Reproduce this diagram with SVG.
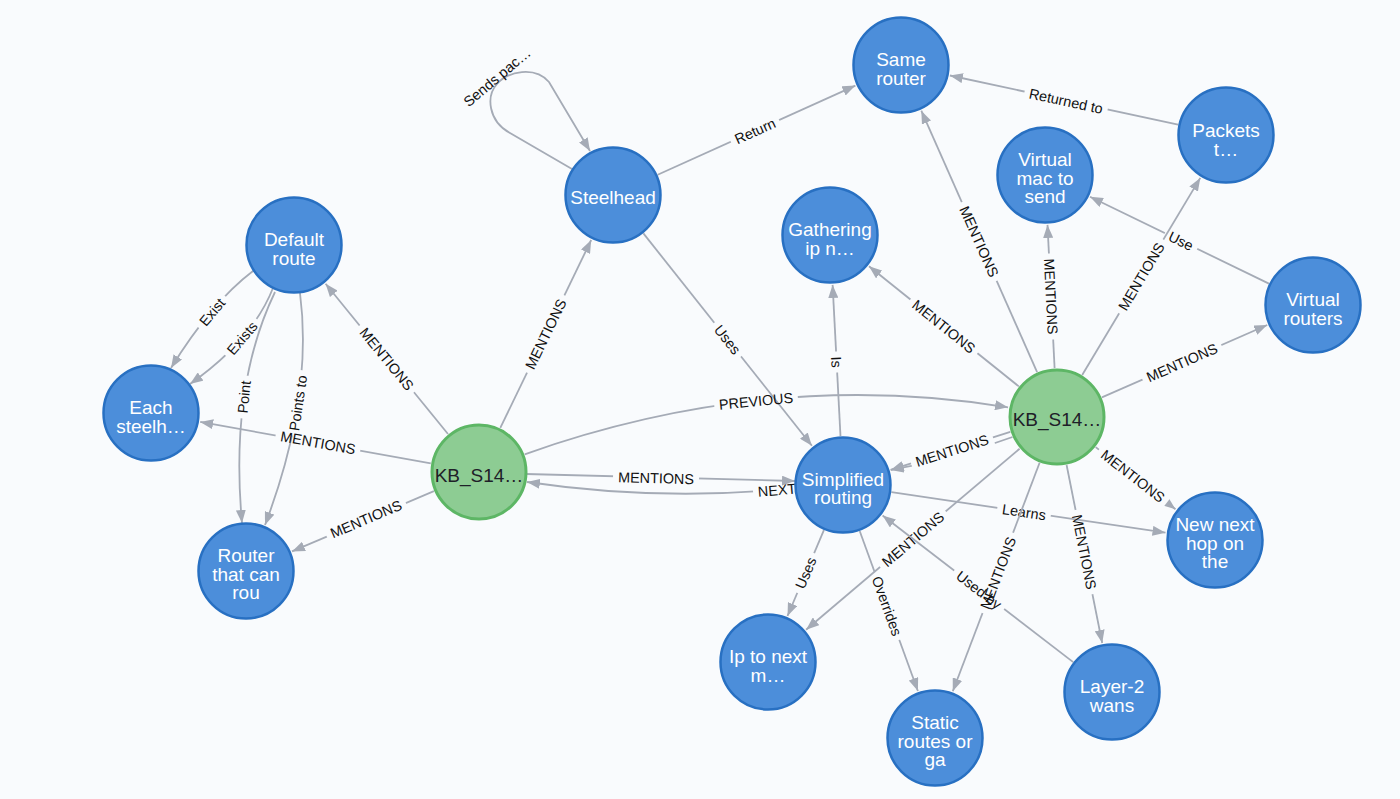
<svg xmlns="http://www.w3.org/2000/svg" width="1400" height="799" viewBox="0 0 1400 799">
<defs>
<marker id="arr" viewBox="0 0 13 10" refX="13" refY="5" markerWidth="13" markerHeight="10" markerUnits="userSpaceOnUse" orient="auto"><path d="M0,0 L13,5 L0,10 z" fill="#A5ABB6"/></marker>
<rect id="full" width="1400" height="799" fill="#fff"/>
<mask id="m1" maskUnits="userSpaceOnUse" x="0" y="0" width="1400" height="799"><use href="#full"/><rect x="-26.5" y="-6" width="53" height="12" transform="translate(755,131) rotate(-24.3)"/></mask>
<mask id="m2" maskUnits="userSpaceOnUse" x="0" y="0" width="1400" height="799"><use href="#full"/><rect x="-21.5" y="-6" width="43" height="12" transform="translate(727.6,339.6) rotate(51.6)"/></mask>
<mask id="m3" maskUnits="userSpaceOnUse" x="0" y="0" width="1400" height="799"><use href="#full"/><rect x="-43" y="-6" width="86" height="12" transform="translate(545.7,334) rotate(-64.2)"/></mask>
<mask id="m4" maskUnits="userSpaceOnUse" x="0" y="0" width="1400" height="799"><use href="#full"/><rect x="-43" y="-6" width="86" height="12" transform="translate(386.8,358.9) rotate(50.8)"/></mask>
<mask id="m5" maskUnits="userSpaceOnUse" x="0" y="0" width="1400" height="799"><use href="#full"/><rect x="-20.5" y="-7" width="41" height="14" transform="translate(212,312) rotate(-49.8)"/></mask>
<mask id="m6" maskUnits="userSpaceOnUse" x="0" y="0" width="1400" height="799"><use href="#full"/><rect x="-24" y="-7" width="48" height="14" transform="translate(242,338) rotate(-49.2)"/></mask>
<mask id="m7" maskUnits="userSpaceOnUse" x="0" y="0" width="1400" height="799"><use href="#full"/><rect x="-21.5" y="-7" width="43" height="14" transform="translate(244,397) rotate(-84)"/></mask>
<mask id="m8" maskUnits="userSpaceOnUse" x="0" y="0" width="1400" height="799"><use href="#full"/><rect x="-33" y="-7" width="66" height="14" transform="translate(298,403) rotate(-81.4)"/></mask>
<mask id="m9" maskUnits="userSpaceOnUse" x="0" y="0" width="1400" height="799"><use href="#full"/><rect x="-43" y="-6" width="86" height="12" transform="translate(318,442.6) rotate(10.2)"/></mask>
<mask id="m10" maskUnits="userSpaceOnUse" x="0" y="0" width="1400" height="799"><use href="#full"/><rect x="-43" y="-6" width="86" height="12" transform="translate(366,519) rotate(-23)"/></mask>
<mask id="m11" maskUnits="userSpaceOnUse" x="0" y="0" width="1400" height="799"><use href="#full"/><rect x="-43" y="-6" width="86" height="12" transform="translate(656,478) rotate(1.5)"/></mask>
<mask id="m12" maskUnits="userSpaceOnUse" x="0" y="0" width="1400" height="799"><use href="#full"/><rect x="-24" y="-6" width="48" height="12" transform="translate(777,490) rotate(-4.9)"/></mask>
<mask id="m13" maskUnits="userSpaceOnUse" x="0" y="0" width="1400" height="799"><use href="#full"/><rect x="-42" y="-7" width="84" height="14" transform="translate(756,401) rotate(-5.6)"/></mask>
<mask id="m14" maskUnits="userSpaceOnUse" x="0" y="0" width="1400" height="799"><use href="#full"/><rect x="-10.5" y="-6" width="21" height="12" transform="translate(836.5,362) rotate(87)"/></mask>
<mask id="m15" maskUnits="userSpaceOnUse" x="0" y="0" width="1400" height="799"><use href="#full"/><rect x="-43" y="-6" width="86" height="12" transform="translate(943.9,326.4) rotate(38.7)"/></mask>
<mask id="m16" maskUnits="userSpaceOnUse" x="0" y="0" width="1400" height="799"><use href="#full"/><rect x="-43" y="-6" width="86" height="12" transform="translate(979.2,241.5) rotate(66.1)"/></mask>
<mask id="m17" maskUnits="userSpaceOnUse" x="0" y="0" width="1400" height="799"><use href="#full"/><rect x="-43" y="-6" width="86" height="12" transform="translate(1051,296.5) rotate(87.2)"/></mask>
<mask id="m18" maskUnits="userSpaceOnUse" x="0" y="0" width="1400" height="799"><use href="#full"/><rect x="-43" y="-6" width="86" height="12" transform="translate(1141.3,276.5) rotate(-59.1)"/></mask>
<mask id="m19" maskUnits="userSpaceOnUse" x="0" y="0" width="1400" height="799"><use href="#full"/><rect x="-18" y="-6" width="36" height="12" transform="translate(1181,241) rotate(25.9)"/></mask>
<mask id="m20" maskUnits="userSpaceOnUse" x="0" y="0" width="1400" height="799"><use href="#full"/><rect x="-42.5" y="-6" width="85" height="12" transform="translate(1066,101) rotate(12.2)"/></mask>
<mask id="m21" maskUnits="userSpaceOnUse" x="0" y="0" width="1400" height="799"><use href="#full"/><rect x="-43" y="-6" width="86" height="12" transform="translate(1182,362.5) rotate(-23.6)"/></mask>
<mask id="m22" maskUnits="userSpaceOnUse" x="0" y="0" width="1400" height="799"><use href="#full"/><rect x="-43" y="-9" width="86" height="18" transform="translate(952,450.5) rotate(-17.6)"/></mask>
<mask id="m23" maskUnits="userSpaceOnUse" x="0" y="0" width="1400" height="799"><use href="#full"/><rect x="-43" y="-6" width="86" height="12" transform="translate(1133,476) rotate(37.9)"/></mask>
<mask id="m24" maskUnits="userSpaceOnUse" x="0" y="0" width="1400" height="799"><use href="#full"/><rect x="-27" y="-6" width="54" height="12" transform="translate(1024,512) rotate(8.4)"/></mask>
<mask id="m25" maskUnits="userSpaceOnUse" x="0" y="0" width="1400" height="799"><use href="#full"/><rect x="-43" y="-6" width="86" height="12" transform="translate(1084.4,552) rotate(78.7)"/></mask>
<mask id="m26" maskUnits="userSpaceOnUse" x="0" y="0" width="1400" height="799"><use href="#full"/><rect x="-43" y="-6" width="86" height="12" transform="translate(912.9,539.2) rotate(-40.3)"/></mask>
<mask id="m27" maskUnits="userSpaceOnUse" x="0" y="0" width="1400" height="799"><use href="#full"/><rect x="-21.5" y="-6" width="43" height="12" transform="translate(805.7,573) rotate(-67)"/></mask>
<mask id="m28" maskUnits="userSpaceOnUse" x="0" y="0" width="1400" height="799"><use href="#full"/><rect x="-36" y="-6" width="72" height="12" transform="translate(887,606) rotate(70)"/></mask>
<mask id="m29" maskUnits="userSpaceOnUse" x="0" y="0" width="1400" height="799"><use href="#full"/><rect x="-31.5" y="-6" width="63" height="12" transform="translate(979,590) rotate(37.6)"/></mask>
<mask id="m30" maskUnits="userSpaceOnUse" x="0" y="0" width="1400" height="799"><use href="#full"/><rect x="-43" y="-6" width="86" height="12" transform="translate(998,573) rotate(-69.2)"/></mask>
<style>
.e{fill:none;stroke:#A5ABB6;stroke-width:1.8}
.el{font-family:"Liberation Sans",Arial,sans-serif;font-size:14.4px;fill:#111;text-anchor:middle}
.nb circle{fill:#4C8EDA;stroke:#2870C2;stroke-width:2.5}
.ng circle{fill:#8DCC93;stroke:#5DB665;stroke-width:3}
.nt{font-family:"Liberation Sans",Arial,sans-serif;font-size:19px;fill:#FFFFFF;text-anchor:middle}
.ng .nt{fill:#1E2028}
</style>
</defs>
<rect width="1400" height="799" fill="#F9FBFD"/>
<g id="connectors">
<g><path class="e" d="M572,169 L510,133 C488,121 486,96 497,84 C508,71 535,66 549,82 L590,151" marker-end="url(#arr)"/><text class="el" transform="translate(497,77) rotate(-40)" dy=".36em">Sends pac…</text></g>
<g><path class="e" mask="url(#m1)" d="M657.7,174.8 L855.4,85.6" marker-end="url(#arr)"/><text class="el" transform="translate(755,131) rotate(-24.3)" dy=".36em">Return</text></g>
<g><path class="e" mask="url(#m2)" d="M643.4,233.4 L811.9,445.8" marker-end="url(#arr)"/><text class="el" transform="translate(727.6,339.6) rotate(51.6)" dy=".36em">Uses</text></g>
<g><path class="e" mask="url(#m3)" d="M500.3,427.9 L591.2,240" marker-end="url(#arr)"/><text class="el" transform="translate(545.7,334) rotate(-64.2)" dy=".36em">MENTIONS</text></g>
<g><path class="e" mask="url(#m4)" d="M448,434 L325.6,283.8" marker-end="url(#arr)"/><text class="el" transform="translate(386.8,358.9) rotate(50.8)" dy=".36em">MENTIONS</text></g>
<g><path class="e" mask="url(#m5)" d="M253,271 Q211,303 171,368" marker-end="url(#arr)"/><text class="el" transform="translate(212,312) rotate(-49.8)" dy=".36em">Exist</text></g>
<g><path class="e" mask="url(#m6)" d="M273,288 Q252.5,340 190,384" marker-end="url(#arr)"/><text class="el" transform="translate(242,338) rotate(-49.2)" dy=".36em">Exists</text></g>
<g><path class="e" mask="url(#m7)" d="M275,292 Q229.5,386.5 242,523" marker-end="url(#arr)"/><text class="el" transform="translate(244,397) rotate(-84)" dy=".36em">Point</text></g>
<g><path class="e" mask="url(#m8)" d="M300,293 Q313.5,397 265,525" marker-end="url(#arr)"/><text class="el" transform="translate(298,403) rotate(-81.4)" dy=".36em">Points to</text></g>
<g><path class="e" mask="url(#m9)" d="M430.8,463.3 L200.2,421.9" marker-end="url(#arr)"/><text class="el" transform="translate(318,442.6) rotate(10.2)" dy=".36em">MENTIONS</text></g>
<g><path class="e" mask="url(#m10)" d="M433.9,491.2 L292,551.4" marker-end="url(#arr)"/><text class="el" transform="translate(366,519) rotate(-23)" dy=".36em">MENTIONS</text></g>
<g><path class="e" mask="url(#m11)" d="M526,474 L795,481" marker-end="url(#arr)"/><text class="el" transform="translate(656,478) rotate(1.5)" dy=".36em">MENTIONS</text></g>
<g><path class="e" mask="url(#m12)" d="M797,488 Q662,502 527,482" marker-end="url(#arr)"/><text class="el" transform="translate(777,490) rotate(-4.9)" dy=".36em">NEXT</text></g>
<g><path class="e" mask="url(#m13)" d="M524.7,454.3 Q768,368 1008,407.3" marker-end="url(#arr)"/><text class="el" transform="translate(756,401) rotate(-5.6)" dy=".36em">PREVIOUS</text></g>
<g><path class="e" mask="url(#m14)" d="M840.5,436.1 L832.6,284.9" marker-end="url(#arr)"/><text class="el" transform="translate(836.5,362) rotate(87)" dy=".36em">Is</text></g>
<g><path class="e" mask="url(#m15)" d="M1018.8,386.4 L869,266.3" marker-end="url(#arr)"/><text class="el" transform="translate(943.9,326.4) rotate(38.7)" dy=".36em">MENTIONS</text></g>
<g><path class="e" mask="url(#m16)" d="M1037.1,372.2 L921.3,110.7" marker-end="url(#arr)"/><text class="el" transform="translate(979.2,241.5) rotate(66.1)" dy=".36em">MENTIONS</text></g>
<g><path class="e" mask="url(#m17)" d="M1054.6,368.1 L1047.5,224.9" marker-end="url(#arr)"/><text class="el" transform="translate(1051,296.5) rotate(87.2)" dy=".36em">MENTIONS</text></g>
<g><path class="e" mask="url(#m18)" d="M1082.2,375 L1200.3,177.9" marker-end="url(#arr)"/><text class="el" transform="translate(1141.3,276.5) rotate(-59.1)" dy=".36em">MENTIONS</text></g>
<g><path class="e" mask="url(#m19)" d="M1268.9,283.6 L1090,196.8" marker-end="url(#arr)"/><text class="el" transform="translate(1181,241) rotate(25.9)" dy=".36em">Use</text></g>
<g><path class="e" mask="url(#m20)" d="M1178.1,124.7 L949.9,75.5" marker-end="url(#arr)"/><text class="el" transform="translate(1066,101) rotate(12.2)" dy=".36em">Returned to</text></g>
<g><path class="e" mask="url(#m21)" d="M1101.9,397.4 L1267.2,325" marker-end="url(#arr)"/><text class="el" transform="translate(1182,362.5) rotate(-23.6)" dy=".36em">MENTIONS</text></g>
<g mask="url(#m22)"><path class="e" d="M1012.5,437 Q950,460 890.7,469.9" marker-end="url(#arr)"/><path class="e" d="M1010.3,431.8 L890.7,469.9" marker-end="url(#arr)"/></g>
<text class="el" transform="translate(952,450.5) rotate(-17.6)" dy=".36em">MENTIONS</text>
<g><path class="e" mask="url(#m23)" d="M1095.7,447.1 L1175.5,509.3" marker-end="url(#arr)"/><text class="el" transform="translate(1133,476) rotate(37.9)" dy=".36em">MENTIONS</text></g>
<g><path class="e" mask="url(#m24)" d="M891.5,492.2 L1165.5,532.7" marker-end="url(#arr)"/><text class="el" transform="translate(1024,512) rotate(8.4)" dy=".36em">Learns</text></g>
<g><path class="e" mask="url(#m25)" d="M1066.6,465 L1102.2,643" marker-end="url(#arr)"/><text class="el" transform="translate(1084.4,552) rotate(78.7)" dy=".36em">MENTIONS</text></g>
<g><path class="e" mask="url(#m26)" d="M1019.6,448.7 L806.1,629.7" marker-end="url(#arr)"/><text class="el" transform="translate(912.9,539.2) rotate(-40.3)" dy=".36em">MENTIONS</text></g>
<g><path class="e" mask="url(#m27)" d="M823.9,530.1 L787.5,616" marker-end="url(#arr)"/><text class="el" transform="translate(805.7,573) rotate(-67)" dy=".36em">Uses</text></g>
<g><path class="e" mask="url(#m28)" d="M859.7,531 L917.9,691" marker-end="url(#arr)"/><text class="el" transform="translate(887,606) rotate(70)" dy=".36em">Overrides</text></g>
<g><path class="e" mask="url(#m29)" d="M1073.2,662.1 L882.6,515.5" marker-end="url(#arr)"/><text class="el" transform="translate(979,590) rotate(37.6)" dy=".36em">Used by</text></g>
<g><path class="e" mask="url(#m30)" d="M1039.6,462.8 L952.8,691.3" marker-end="url(#arr)"/><text class="el" transform="translate(998,573) rotate(-69.2)" dy=".36em">MENTIONS</text></g>
</g>
<g id="n-same" class="nb"><circle cx="901" cy="65" r="47.5"/><text class="nt" x="901" y="66">Same</text><text class="nt" x="901" y="85">router</text></g>
<g id="n-packets" class="nb"><circle cx="1226" cy="135" r="47.5"/><text class="nt" x="1226" y="137">Packets</text><text class="nt" x="1226" y="155.5">t…</text></g>
<g id="n-vmac" class="nb"><circle cx="1045" cy="175" r="47.5"/><text class="nt" x="1045" y="166">Virtual</text><text class="nt" x="1045" y="184.5">mac to</text><text class="nt" x="1045" y="203">send</text></g>
<g id="n-gather" class="nb"><circle cx="830" cy="235" r="47.5"/><text class="nt" x="830" y="236">Gathering</text><text class="nt" x="830" y="254.5">ip n…</text></g>
<g id="n-vrouters" class="nb"><circle cx="1313" cy="305" r="47.5"/><text class="nt" x="1313" y="306">Virtual</text><text class="nt" x="1313" y="324.5">routers</text></g>
<g id="n-steelhead" class="nb"><circle cx="613" cy="195" r="47.5"/><text class="nt" x="613" y="204">Steelhead</text></g>
<g id="n-default" class="nb"><circle cx="294" cy="245" r="47.5"/><text class="nt" x="294" y="246">Default</text><text class="nt" x="294" y="264.5">route</text></g>
<g id="n-each" class="nb"><circle cx="151" cy="413" r="47.5"/><text class="nt" x="151" y="414">Each</text><text class="nt" x="151" y="432.5">steelh…</text></g>
<g id="n-kb1" class="ng"><circle cx="479" cy="472" r="47"/><text class="nt" x="479" y="482">KB_S14…</text></g>
<g id="n-kb2" class="ng"><circle cx="1057" cy="417" r="47"/><text class="nt" x="1057" y="426">KB_S14…</text></g>
<g id="n-simplified" class="nb"><circle cx="843" cy="485" r="47.5"/><text class="nt" x="843" y="485.5">Simplified</text><text class="nt" x="843" y="504">routing</text></g>
<g id="n-newnext" class="nb"><circle cx="1215" cy="540" r="47.5"/><text class="nt" x="1215" y="531">New next</text><text class="nt" x="1215" y="549.5">hop on</text><text class="nt" x="1215" y="568">the</text></g>
<g id="n-router" class="nb"><circle cx="246" cy="571" r="47.5"/><text class="nt" x="246" y="562">Router</text><text class="nt" x="246" y="580.5">that can</text><text class="nt" x="246" y="599">rou</text></g>
<g id="n-ip" class="nb"><circle cx="768" cy="662" r="47.5"/><text class="nt" x="768" y="663">Ip to next</text><text class="nt" x="768" y="681.5">m…</text></g>
<g id="n-static" class="nb"><circle cx="935" cy="738" r="47.5"/><text class="nt" x="935" y="729">Static</text><text class="nt" x="935" y="747.5">routes or</text><text class="nt" x="935" y="766">ga</text></g>
<g id="n-layer2" class="nb"><circle cx="1112" cy="692" r="47.5"/><text class="nt" x="1112" y="693">Layer-2</text><text class="nt" x="1112" y="711.5">wans</text></g>
</svg>
